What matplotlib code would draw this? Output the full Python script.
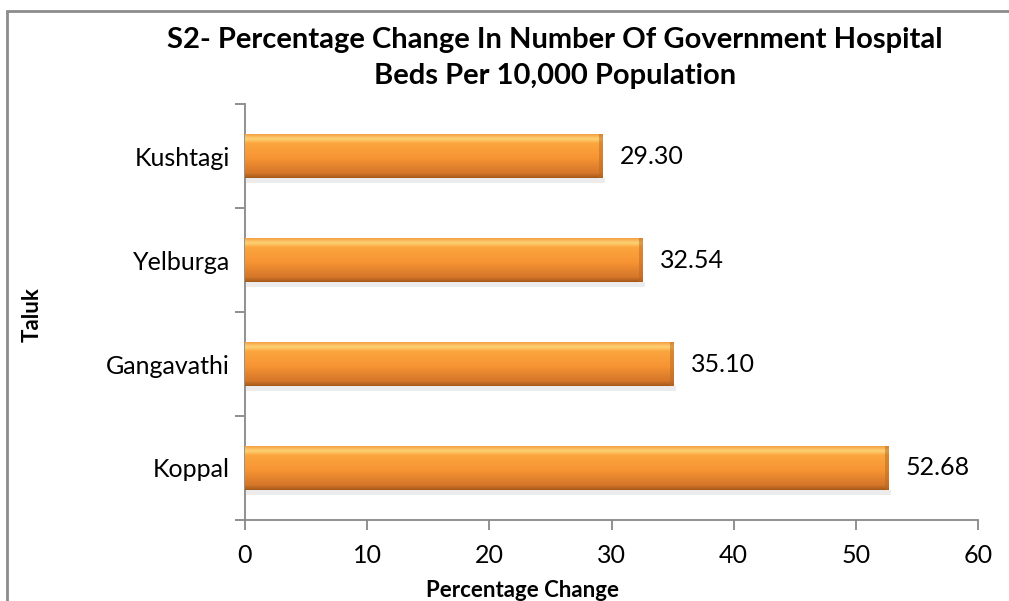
import numpy as np
import matplotlib.pyplot as plt
from matplotlib.patches import Rectangle
from matplotlib.colors import LinearSegmentedColormap

plt.rcParams['font.family'] = ['Lato', 'DejaVu Sans']

taluks = ['Koppal', 'Gangavathi', 'Yelburga', 'Kushtagi']
pct_change = [52.68, 35.10, 32.54, 29.30]
x_ticks = [0, 10, 20, 30, 40, 50, 60]

fig = plt.figure(figsize=(10.09, 6.01), dpi=100)
ax = fig.add_axes([0.2428, 0.1348, 0.7265, 0.692])

# gradient for the bars: light top, orange middle, dark bottom
grad = LinearSegmentedColormap.from_list('bar', [
    (0.0, '#a85a1a'), (0.1, '#d5762a'), (0.45, '#f79433'),
    (0.78, '#fba63f'), (0.88, '#fed274'), (1.0, '#f39a3a')])

ypos = np.arange(len(taluks))
bh = 0.43
bars = ax.barh(ypos, pct_change, height=bh, color='#f79433', edgecolor='none', zorder=2)
for b in bars:
    x0, y0 = b.get_x(), b.get_y()
    w, h = b.get_width(), b.get_height()
    # soft shadow under the bar
    ax.add_patch(Rectangle((x0, y0 - 0.04), w + 0.2, 0.04, color='#ececec', zorder=1, lw=0))
    img = np.linspace(0, 1, 50).reshape(-1, 1)
    im = ax.imshow(img, cmap=grad, origin='lower', aspect='auto',
                   extent=[x0, x0 + w, y0, y0 + h], zorder=3)
    im.set_clip_path(b)
    ax.add_patch(Rectangle((x0 + w - 0.3, y0), 0.3, h, color='#b86a25', alpha=0.5, zorder=4, lw=0))
    ax.text(x0 + w + 1.4, y0 + h / 2, f'{w:.2f}', va='center', ha='left', fontsize=18, zorder=5)

ax.set_xlim(0, 60)
ax.set_ylim(-0.5, len(taluks) - 0.5)
ax.set_xticks(x_ticks)
ax.set_xticklabels([str(t) for t in x_ticks], fontsize=18)
ax.set_yticks(ypos)
ax.set_yticklabels(taluks, fontsize=18)
ax.set_yticks(np.arange(-0.5, len(taluks)), minor=True)
ax.tick_params(axis='y', which='major', length=0, pad=11)
ax.tick_params(axis='y', which='minor', length=7, color='#888888', width=1.3)
ax.tick_params(axis='x', length=7, color='#888888', width=1.3, pad=10)

for s in ['top', 'right']:
    ax.spines[s].set_visible(False)
for s in ['left', 'bottom']:
    ax.spines[s].set_color('#888888')
    ax.spines[s].set_linewidth(1.3)

fig.text(0.518, 0.018, 'Percentage Change', fontsize=16, fontweight='bold', ha='center', va='center')
fig.text(0.032, 0.477, 'Taluk', rotation=90, fontsize=16, fontweight='bold', ha='center', va='center')

fig.text(0.55, 0.933, 'S2- Percentage Change In Number Of Government Hospital',
         ha='center', va='center', fontsize=21, fontweight='bold')
fig.text(0.55, 0.873, 'Beds Per 10,000 Population',
         ha='center', va='center', fontsize=21, fontweight='bold')

# chart frame
fig.patches.append(Rectangle((7 / 1009, -0.05), 1.1, 1 - 11 / 601 + 0.05,
                             transform=fig.transFigure, fill=False,
                             edgecolor='#8c8c8c', linewidth=2))

fig.savefig('out.png', dpi=100)
